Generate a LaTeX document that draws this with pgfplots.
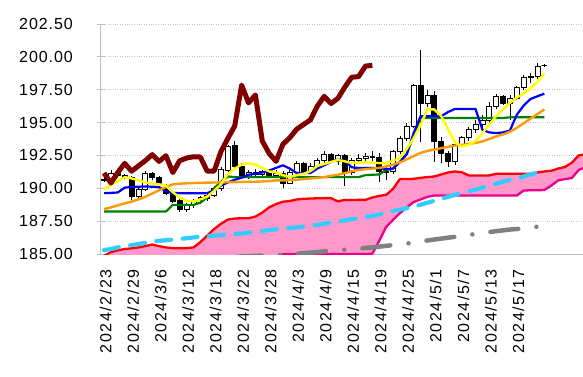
\documentclass[border=0pt]{standalone}
\usepackage{fontspec}
\setmainfont{Liberation Sans}
\newfontfamily\yfont[LetterSpace=6]{Liberation Sans}
\newfontfamily\xfont[LetterSpace=10]{Liberation Sans}
\usepackage{pgfplots}
\usepackage{pgfplotstable}
\pgfplotsset{compat=1.18}

\definecolor{cloudpink}{HTML}{FF99CC}
\definecolor{chikou}{HTML}{800000}
\definecolor{orng}{HTML}{FF9900}
\definecolor{cyanl}{HTML}{33CCFF}
\definecolor{gridc}{HTML}{C8C8C8}
\definecolor{axisc}{HTML}{BFBFBF}
\definecolor{ylw}{HTML}{FFFF00}
\definecolor{grn}{HTML}{008000}
\definecolor{grayl}{HTML}{808080}

% candles: index, open, high, low, close
\pgfplotstableread{
i O H L C
0 190.60 190.90 190.45 190.70
1 190.70 191.40 190.55 191.15
2 191.15 191.30 190.80 190.95
3 190.95 191.10 190.70 190.80
4 190.80 190.95 189.10 189.35
5 189.35 190.10 189.20 189.95
6 189.95 191.30 189.80 191.10
7 191.10 191.25 190.60 190.80
8 190.80 190.90 190.30 190.40
9 190.10 190.30 189.50 189.60
10 189.60 189.80 188.90 189.00
11 189.05 189.20 188.20 188.40
12 188.40 188.90 188.20 188.70
13 188.75 189.20 188.50 189.10
14 189.05 189.40 188.80 189.30
15 189.20 189.70 189.00 189.50
16 189.50 190.20 189.30 190.00
17 190.00 191.60 189.80 191.45
18 191.40 193.30 191.20 193.20
19 193.30 193.60 191.50 191.70
20 191.70 191.90 190.70 190.90
21 190.90 191.40 190.70 191.20
22 191.20 191.50 190.90 191.05
23 191.05 191.40 190.80 191.30
24 191.30 191.50 190.90 191.00
25 191.00 191.40 190.80 191.16
26 191.16 191.35 190.00 190.40
27 190.40 191.40 190.30 191.20
28 191.20 192.10 191.00 191.90
29 191.90 192.00 191.10 191.30
30 191.30 191.90 191.20 191.70
31 191.70 192.30 191.50 192.10
32 192.10 192.80 191.90 192.56
33 192.56 192.70 191.90 192.05
34 192.05 192.60 191.80 192.48
35 192.48 192.60 190.20 191.20
36 191.20 192.30 191.00 192.10
37 192.10 192.60 191.90 192.30
38 192.30 192.70 192.00 192.40
39 192.40 192.80 192.10 192.38
40 192.38 192.70 190.50 191.30
41 191.25 191.80 190.60 191.30
42 191.30 192.90 191.10 192.80
43 192.80 194.00 192.60 193.80
44 193.80 195.00 193.60 194.75
45 194.75 197.90 194.60 197.85
46 197.85 200.55 193.50 196.50
47 196.50 197.50 196.20 197.10
48 197.10 197.40 192.00 193.60
49 193.60 193.90 191.90 192.65
50 192.65 192.80 191.60 192.05
51 192.05 193.60 191.80 193.35
52 193.35 194.00 193.20 193.85
53 193.85 194.70 193.60 194.50
54 194.50 195.20 194.20 194.85
55 194.85 195.60 194.60 195.20
56 195.20 196.60 195.00 196.25
57 196.25 197.20 196.00 197.00
58 197.00 197.10 196.30 196.45
59 196.45 197.10 195.20 196.85
60 196.85 197.80 196.70 197.70
61 197.70 198.60 197.50 198.45
62 198.45 198.80 198.00 198.50
63 198.50 199.50 198.30 199.30
64 199.35 199.45 199.20 199.35
}\ohlc

% lines: yellow, blue, green, orange, cyan dashed
\pgfplotstableread{
i Y B G Or Cy
0 189.93 189.63 188.23 188.41 185.30
1 190.25 189.65 188.23 188.55 185.38
2 190.55 189.68 188.23 188.70 185.50
3 190.85 190.05 188.23 188.85 185.60
4 190.75 190.10 188.23 188.99 185.68
5 190.60 190.12 188.23 189.15 185.76
6 190.45 190.14 188.23 189.35 185.85
7 190.35 190.12 188.23 189.60 185.93
8 190.30 190.09 188.23 189.85 186.00
9 190.20 189.76 188.23 190.10 186.05
10 189.70 189.65 188.74 190.30 186.10
11 189.30 189.63 188.74 190.35 186.15
12 189.05 189.63 188.74 190.38 186.20
13 189.00 189.63 188.74 190.40 186.26
14 189.15 189.63 188.90 190.42 186.32
15 189.37 189.63 189.30 190.43 186.36
16 189.80 189.85 190.00 190.44 186.40
17 190.30 190.20 190.50 190.45 186.44
18 191.10 190.45 190.90 190.46 186.48
19 191.50 190.65 190.85 190.47 186.52
20 191.80 190.80 190.85 190.48 186.57
21 191.90 191.03 190.85 190.50 186.62
22 191.80 191.10 190.85 190.50 186.68
23 191.55 191.20 190.85 190.52 186.75
24 191.28 191.35 190.85 190.55 186.82
25 191.20 191.55 190.85 190.60 186.88
26 191.00 191.75 190.85 190.60 186.93
27 190.85 191.50 190.85 190.62 186.98
28 191.00 191.16 190.85 190.65 187.03
29 191.10 191.16 190.85 190.70 187.08
30 191.30 191.16 190.85 190.75 187.14
31 191.70 191.50 190.85 190.80 187.22
32 191.85 191.75 190.85 190.85 187.30
33 192.00 192.00 190.85 190.95 187.39
34 192.15 192.18 190.85 191.03 187.47
35 192.05 192.10 190.85 191.15 187.56
36 191.92 191.60 190.85 191.30 187.65
37 191.95 191.54 190.85 191.40 187.73
38 191.97 191.54 191.00 191.45 187.82
39 191.95 191.54 191.03 191.50 187.90
40 191.92 191.54 191.05 191.55 188.00
41 191.92 191.45 191.40 191.65 188.15
42 192.10 191.50 191.50 191.80 188.28
43 192.30 192.00 192.00 191.97 188.38
44 193.00 192.60 192.60 192.20 188.48
45 193.80 194.20 194.00 192.45 188.60
46 194.80 195.48 195.35 192.69 188.75
47 196.00 195.48 195.35 192.85 188.90
48 196.00 195.48 195.35 192.94 189.05
49 195.50 195.48 195.35 193.05 189.20
50 194.50 195.80 195.35 193.15 189.35
51 193.50 196.04 195.35 193.25 189.50
52 193.20 196.04 195.35 193.30 189.65
53 193.30 196.04 195.35 193.38 189.76
54 193.60 196.04 195.35 193.45 189.90
55 194.20 194.45 195.35 193.57 190.05
56 194.85 194.25 195.35 193.75 190.20
57 195.50 194.20 195.35 193.95 190.35
58 196.00 194.25 195.35 194.10 190.50
59 196.50 194.40 195.40 194.30 190.65
60 196.90 195.60 195.40 194.60 190.75
61 197.20 196.30 195.40 194.95 190.90
62 197.60 196.80 195.40 195.30 191.05
63 198.10 197.00 195.40 195.65 191.20
64 198.75 197.20 195.40 196.00 nan
}\lines

% cloud: leading span A (red) and B (magenta)
\pgfplotstableread{
i A B
0 184.85 184.20
1 185.15 184.20
2 185.28 184.20
3 185.38 184.20
4 185.43 184.20
5 185.50 184.20
6 185.60 184.20
7 185.72 184.20
8 185.60 184.20
9 185.50 184.20
10 185.45 184.20
11 185.43 184.20
12 185.45 184.20
13 185.50 184.20
14 185.90 184.20
15 186.40 184.20
16 186.90 184.20
17 187.30 184.20
18 187.62 184.20
19 187.70 184.20
20 187.72 184.20
21 187.72 184.20
22 187.85 184.20
23 188.15 184.20
24 188.55 184.20
25 188.80 184.20
26 188.98 185.00
27 189.03 185.00
28 189.15 185.00
29 189.20 185.00
30 189.22 185.00
31 189.24 185.00
32 189.25 185.00
33 189.25 185.00
34 189.00 185.00
35 189.12 185.00
36 189.10 185.00
37 189.12 185.00
38 189.12 185.00
39 189.30 185.02
40 189.42 186.00
41 189.50 187.05
42 189.95 187.60
43 190.70 188.10
44 190.70 188.55
45 190.72 188.95
46 190.80 189.15
47 190.85 189.35
48 190.90 189.45
49 191.05 189.45
50 191.20 189.45
51 191.28 189.45
52 191.22 189.45
53 190.98 189.45
54 190.98 189.45
55 190.98 189.45
56 190.98 189.45
57 191.10 189.45
58 191.10 189.45
59 191.10 189.45
60 191.10 189.45
61 191.10 189.83
62 191.10 189.85
63 191.20 189.85
64 191.28 189.87
65 191.33 190.20
66 191.50 190.60
67 191.62 190.70
68 191.95 190.78
69 192.50 191.40
70 192.60 191.60
}\cloud

% lagging span (dark red)
\pgfplotstableread{
j V
0 191.16
1 190.40
2 191.20
3 191.90
4 191.30
5 191.70
6 192.10
7 192.56
8 192.05
9 192.48
10 191.20
11 192.10
12 192.30
13 192.40
14 192.38
15 191.30
16 191.30
17 192.80
18 193.80
19 194.75
20 197.85
21 196.50
22 197.10
23 193.60
24 192.65
25 192.05
26 193.35
27 193.85
28 194.50
29 194.85
30 195.20
31 196.25
32 197.00
33 196.45
34 196.85
35 197.70
36 198.45
37 198.50
38 199.30
39 199.35
}\lag

% long moving average (grey dash-dot)
\pgfplotstableread{
i V
18 184.70
19 184.76
20 184.82
21 184.84
22 184.86
23 184.88
24 184.90
25 184.92
26 184.95
27 184.98
28 185.02
29 185.06
30 185.10
31 185.15
32 185.20
33 185.25
34 185.29
35 185.33
36 185.37
37 185.42
38 185.46
39 185.51
40 185.56
41 185.62
42 185.68
43 185.74
44 185.80
45 185.87
46 185.95
47 186.03
48 186.10
49 186.17
50 186.24
51 186.31
52 186.38
53 186.45
54 186.52
55 186.60
56 186.67
57 186.74
58 186.80
59 186.86
60 186.90
61 186.95
62 187.02
63 187.08
}\longma

\begin{document}
\begin{tikzpicture}
\path[use as bounding box] (0,0) rectangle (583pt,376pt);
\begin{axis}[
  at={(100.6pt,122pt)}, anchor=south west,
  scale only axis, width=482.4pt, height=230pt,
  xmin=-0.5, xmax=69.62, ymin=185, ymax=202.5,
  axis x line*=bottom, axis y line*=left,
  axis line style={-, draw=axisc, line width=0.9pt},
  ytick={185,187.5,190,192.5,195,197.5,200,202.5},
  xtick={0,4,...,60},
  xticklabels={2024/2/23,2024/2/29,2024/3/6,2024/3/12,2024/3/18,2024/3/22,2024/3/28,2024/4/3,2024/4/9,2024/4/15,2024/4/19,2024/4/25,2024/5/1,2024/5/7,2024/5/13,2024/5/17},
  ymajorgrids, grid style={dotted, draw=gridc, line width=0.9pt},
  tick align=center, major tick length=8pt,
  ytick style={draw=axisc, line width=0.9pt},
  xtick style={draw=none},
  /pgf/number format/assume math mode=true,
  yticklabel style={font=\yfont\fontsize{16}{19}\selectfont, inner sep=0pt, xshift=-23.5pt,
    /pgf/number format/fixed, /pgf/number format/fixed zerofill, /pgf/number format/precision=2},
  xticklabel style={font=\xfont\fontsize{16}{19}\selectfont, inner sep=0pt, yshift=-11pt, xshift=1.5pt, rotate=90, anchor=east},
  line join=round,
]
% cloud fill, one quad between consecutive points of the two spans
\pgfplotsinvokeforeach{0,...,69}{
  \pgfplotstablegetelem{#1}{A}\of\cloud \let\qa=\pgfplotsretval
  \pgfplotstablegetelem{#1}{B}\of\cloud \let\qb=\pgfplotsretval
  \pgfmathtruncatemacro{\qn}{#1+1}
  \pgfplotstablegetelem{\qn}{A}\of\cloud \let\qan=\pgfplotsretval
  \pgfplotstablegetelem{\qn}{B}\of\cloud \let\qbn=\pgfplotsretval
  \edef\cq{\noexpand\addplot[forget plot, fill=cloudpink, draw=cloudpink, line width=1.1pt, line join=round]
    coordinates {(#1,\qa) (\qn,\qan) (\qn,\qbn) (#1,\qb)} --cycle;}
  \cq
}
\addplot[red, line width=2.3pt, forget plot] table[x=i, y=A] {\cloud};
\addplot[magenta, line width=2.3pt, forget plot] table[x=i, y=B] {\cloud};
% long MAs
\addplot[cyanl, line width=4.2pt, line cap=round, dash pattern=on 15pt off 11.5pt, forget plot] table[x=i, y=Cy] {\lines};
\addplot[grayl, line width=4.5pt, line cap=round, dash pattern=on 28pt off 18.25pt on 0pt off 18.25pt, dash phase=58.5pt, forget plot] table[x=i, y=V] {\longma};
% candles
\pgfplotsinvokeforeach{0,...,64}{
  \pgfplotstablegetelem{#1}{O}\of\ohlc \let\cO=\pgfplotsretval
  \pgfplotstablegetelem{#1}{H}\of\ohlc \let\cH=\pgfplotsretval
  \pgfplotstablegetelem{#1}{L}\of\ohlc \let\cL=\pgfplotsretval
  \pgfplotstablegetelem{#1}{C}\of\ohlc \let\cC=\pgfplotsretval
  \pgfmathsetmacro{\cLo}{min(\cO,\cC)}
  \pgfmathsetmacro{\cHi}{max(\cO,\cC)}
  \pgfmathsetmacro{\xl}{#1-0.36}
  \pgfmathsetmacro{\xr}{#1+0.36}
  \pgfmathparse{\cC>=\cO ? 1 : 0}
  \ifdim\pgfmathresult pt>0.5pt \def\cFill{white}\else\def\cFill{black}\fi
  \edef\cw{\noexpand\addplot[forget plot, black, line width=0.7pt] coordinates {(#1,\cL) (#1,\cH)};}
  \cw
  \edef\cb{\noexpand\addplot[forget plot, draw=black, line width=0.7pt, fill=\cFill]
    coordinates {(\xl,\cLo) (\xr,\cLo) (\xr,\cHi) (\xl,\cHi)} --cycle;}
  \cb
}
% indicator lines
\addplot[grn, line width=2.2pt, forget plot] table[x=i, y=G] {\lines};
\addplot[blue, line width=2.2pt, forget plot] table[x=i, y=B] {\lines};
\addplot[orng, line width=2.4pt, forget plot] table[x=i, y=Or] {\lines};
\addplot[ylw, line width=2.4pt, forget plot] table[x=i, y=Y] {\lines};
\addplot[chikou, line width=5pt, forget plot] table[x=j, y=V] {\lag};
\end{axis}
\end{tikzpicture}
\end{document}
